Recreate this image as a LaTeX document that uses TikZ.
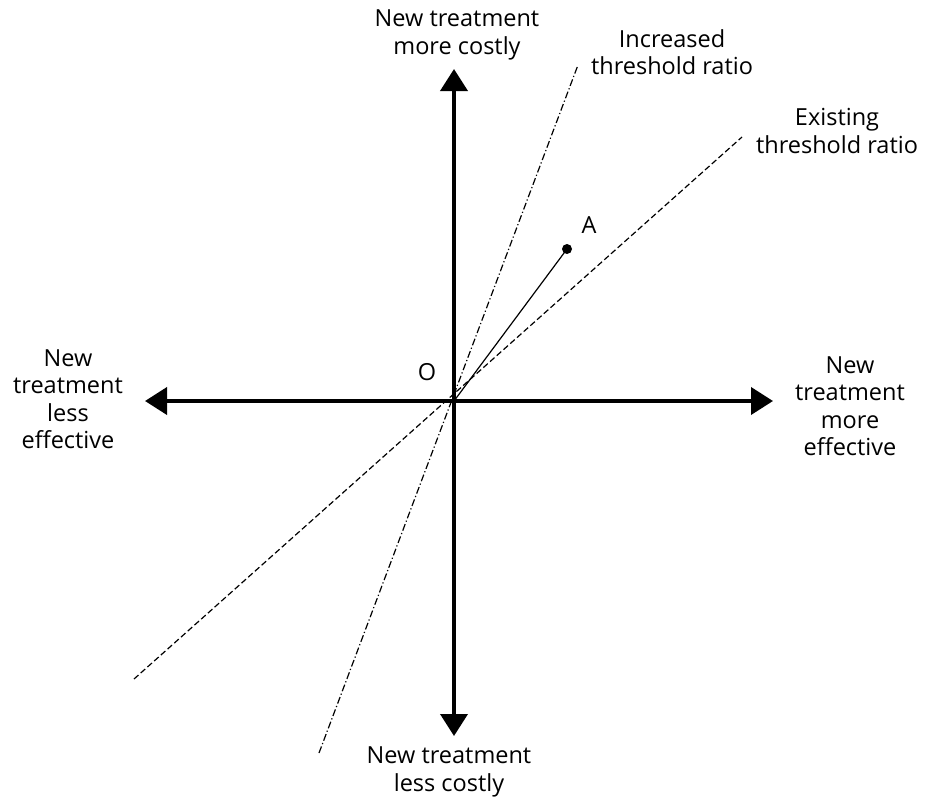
\documentclass[tikz,border=0pt]{standalone}
\usepackage{fontspec}
\setmainfont{Open Sans}
\usetikzlibrary{arrows.meta}
\begin{document}
\begin{tikzpicture}[x=1pt,y=-1pt,
  axis/.style={line width=3.8pt,{Triangle[length=22pt,width=27pt]}-{Triangle[length=22pt,width=27pt]}},
  existing/.style={line width=1.2pt,dash pattern=on 6pt off 3pt},
  increased/.style={line width=1.2pt,dash pattern=on 7pt off 2.5pt on 1.2pt off 2.5pt},
  lbl/.style={align=center,font=\fontsize{23.5}{27.5}\selectfont,inner sep=0pt},
  ptlbl/.style={font=\fontsize{23.5}{27.5}\selectfont,inner sep=0pt}]
\useasboundingbox (0,0) rectangle (925,800);

% origin and axis ends
\coordinate (O) at (454,401);
\coordinate (L) at (145,401);
\coordinate (R) at (773,401);
\coordinate (T) at (454,69);
\coordinate (B) at (454,736);

% threshold ratio lines through the origin
\coordinate (E1) at (134,679);
\coordinate (E2) at (742,137);
\coordinate (I1) at (319,753);
\coordinate (I2) at (578,65);
\draw[existing] (E1) -- (E2);
\draw[increased] (I1) -- (I2);

% axes
\draw[axis] (L) -- (R);
\draw[axis] (B) -- (T);

% point A
\coordinate (A) at (567,249);
\draw[line width=1.2pt] (O) -- (A);
\fill (A) circle (5pt);

% labels
\node[ptlbl] (Olbl) at (427,372) {O};
\node[ptlbl] (Albl) at (589,225) {A};
\node[lbl] (top) at (457,35) {New treatment\\more costly};
\node[lbl] (bottom) at (449,772) {New treatment\\less costly};
\node[lbl] (left) at (68,399) {New\\treatment\\less\\effective};
\node[lbl] (right) at (850,406) {New\\treatment\\more\\effective};
\node[lbl] (inc) at (672,52) {Increased\\threshold ratio};
\node[lbl] (exi) at (837,131) {Existing\\threshold ratio};
\end{tikzpicture}
\end{document}
